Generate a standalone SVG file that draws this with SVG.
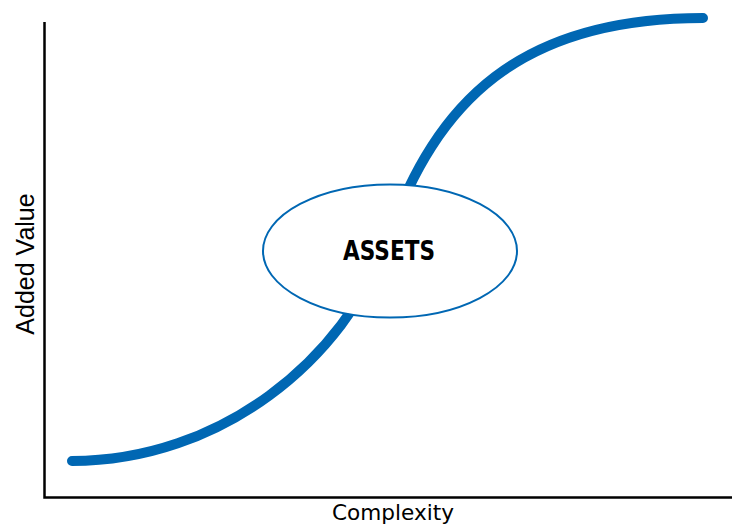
<svg xmlns="http://www.w3.org/2000/svg" width="732" height="526" viewBox="0 0 732 526">
  <style>
    .axis { stroke: #000; stroke-width: 2.5; fill: none; }
    .curve { stroke: #0067B3; stroke-width: 10; fill: none; stroke-linecap: round; }
    .node { fill: #fff; stroke: #0067B3; stroke-width: 2; }
    .label { font-family: "Liberation Sans", Arial, sans-serif; fill: #000; }
    .xlabel { font-family: "DejaVu Sans", sans-serif; font-size: 21px; fill: #000; }
    .title { font-family: "DejaVu Sans", sans-serif; font-size: 26px; font-weight: bold; fill: #000; }
  </style>
  <rect width="732" height="526" fill="#fff"/>
  <g id="axes">
    <polyline class="axis" points="44.5,22 44.5,497.5 732,497.5"/>
    <text class="xlabel" x="393" y="520" text-anchor="middle" textLength="122" lengthAdjust="spacingAndGlyphs">Complexity</text>
    <text class="label" transform="translate(34,264) rotate(-90)" text-anchor="middle" font-size="25">Added Value</text>
  </g>
  <g id="connectors">
    <path class="curve" d="M72,461 C220,461 345,360 387.5,239.5 C436.4,101 520,18 703,18"/>
  </g>
  <g id="assets">
    <ellipse class="node" cx="390" cy="251" rx="127" ry="66.5"/>
    <text class="title" x="389" y="260" text-anchor="middle" textLength="92" lengthAdjust="spacingAndGlyphs">ASSETS</text>
  </g>
</svg>
